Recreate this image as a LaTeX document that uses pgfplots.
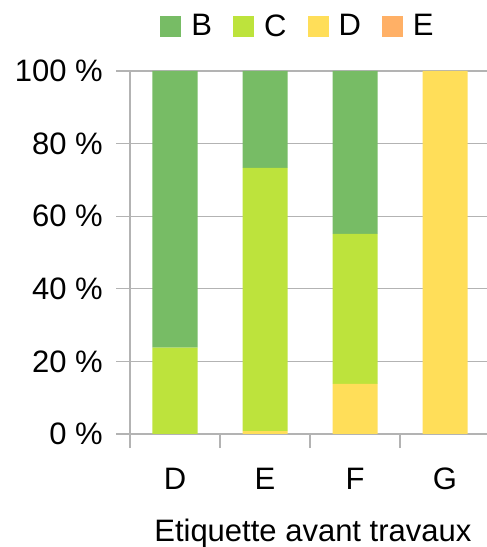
\documentclass[border=0pt]{standalone}
\usepackage{fontspec}
\setmainfont{Liberation Sans}
\usepackage{pgfplots}
\pgfplotsset{compat=1.18}
\definecolor{cB}{HTML}{77BC65}
\definecolor{cC}{HTML}{BDE33C}
\definecolor{cD}{HTML}{FFDE59}
\definecolor{cE}{HTML}{FFB066}
\definecolor{gridc}{HTML}{B3B3B3}
\newcommand{\fs}{\fontsize{31bp}{37bp}\selectfont}
\begin{document}
\begin{tikzpicture}
\useasboundingbox (0,0) rectangle (487bp,547bp);
\begin{axis}[
  at={(130bp,113bp)}, anchor=south west,
  scale only axis, width=360bp, height=363bp,
  ybar stacked, bar width=45bp,
  xmin=-0.5, xmax=3.5, ymin=0, ymax=100,
  axis x line*=bottom, axis y line*=left,
  axis line style={draw=gridc, line width=1.1bp},
  xtick={-0.5,0.5,1.5,2.5,3.5}, xticklabels={},
  extra x ticks={0,1,2,3}, extra x tick labels={D,E,F,G},
  extra x tick style={major tick length=0pt},
  xticklabel style={anchor=base, yshift=-55bp},
  ytick={0,20,40,60,80,100},
  yticklabels={0~\%,20~\%,40~\%,60~\%,80~\%,100~\%},
  yticklabel style={anchor=east, inner sep=0pt, xshift=-13bp},
  ymajorgrids, grid style={draw=gridc, line width=1.1bp},
  major tick length=14bp, tick align=outside,
  tick style={draw=gridc, line width=1.1bp},
  tick label style={font=\fs},
  xlabel={Etiquette avant travaux},
  xlabel style={font=\fs, at={(axis description cs:0.508,-0.2948)}, anchor=base},
  legend style={at={(axis description cs:0.4667,1.124)}, anchor=center,
    draw=none, fill=none, font=\fs, legend columns=4,
    /tikz/every even column/.append style={column sep=19bp}},
  legend image code/.code={\fill[#1] (0bp,-11bp) rectangle (21bp,10bp);\path (29bp,0);},
  reverse legend,
]
\addplot[fill=cE, draw=none] coordinates {(0,0) (1,0) (2,0) (3,0)};
\addplot[fill=cD, draw=none] coordinates {(0,0) (1,0.8) (2,13.8) (3,100)};
\addplot[fill=cC, draw=none] coordinates {(0,23.8) (1,72.5) (2,41.3) (3,0)};
\addplot[fill=cB, draw=none] coordinates {(0,76.2) (1,26.7) (2,44.9) (3,0)};
\legend{E,D,C,B}
\end{axis}
\end{tikzpicture}
\end{document}
